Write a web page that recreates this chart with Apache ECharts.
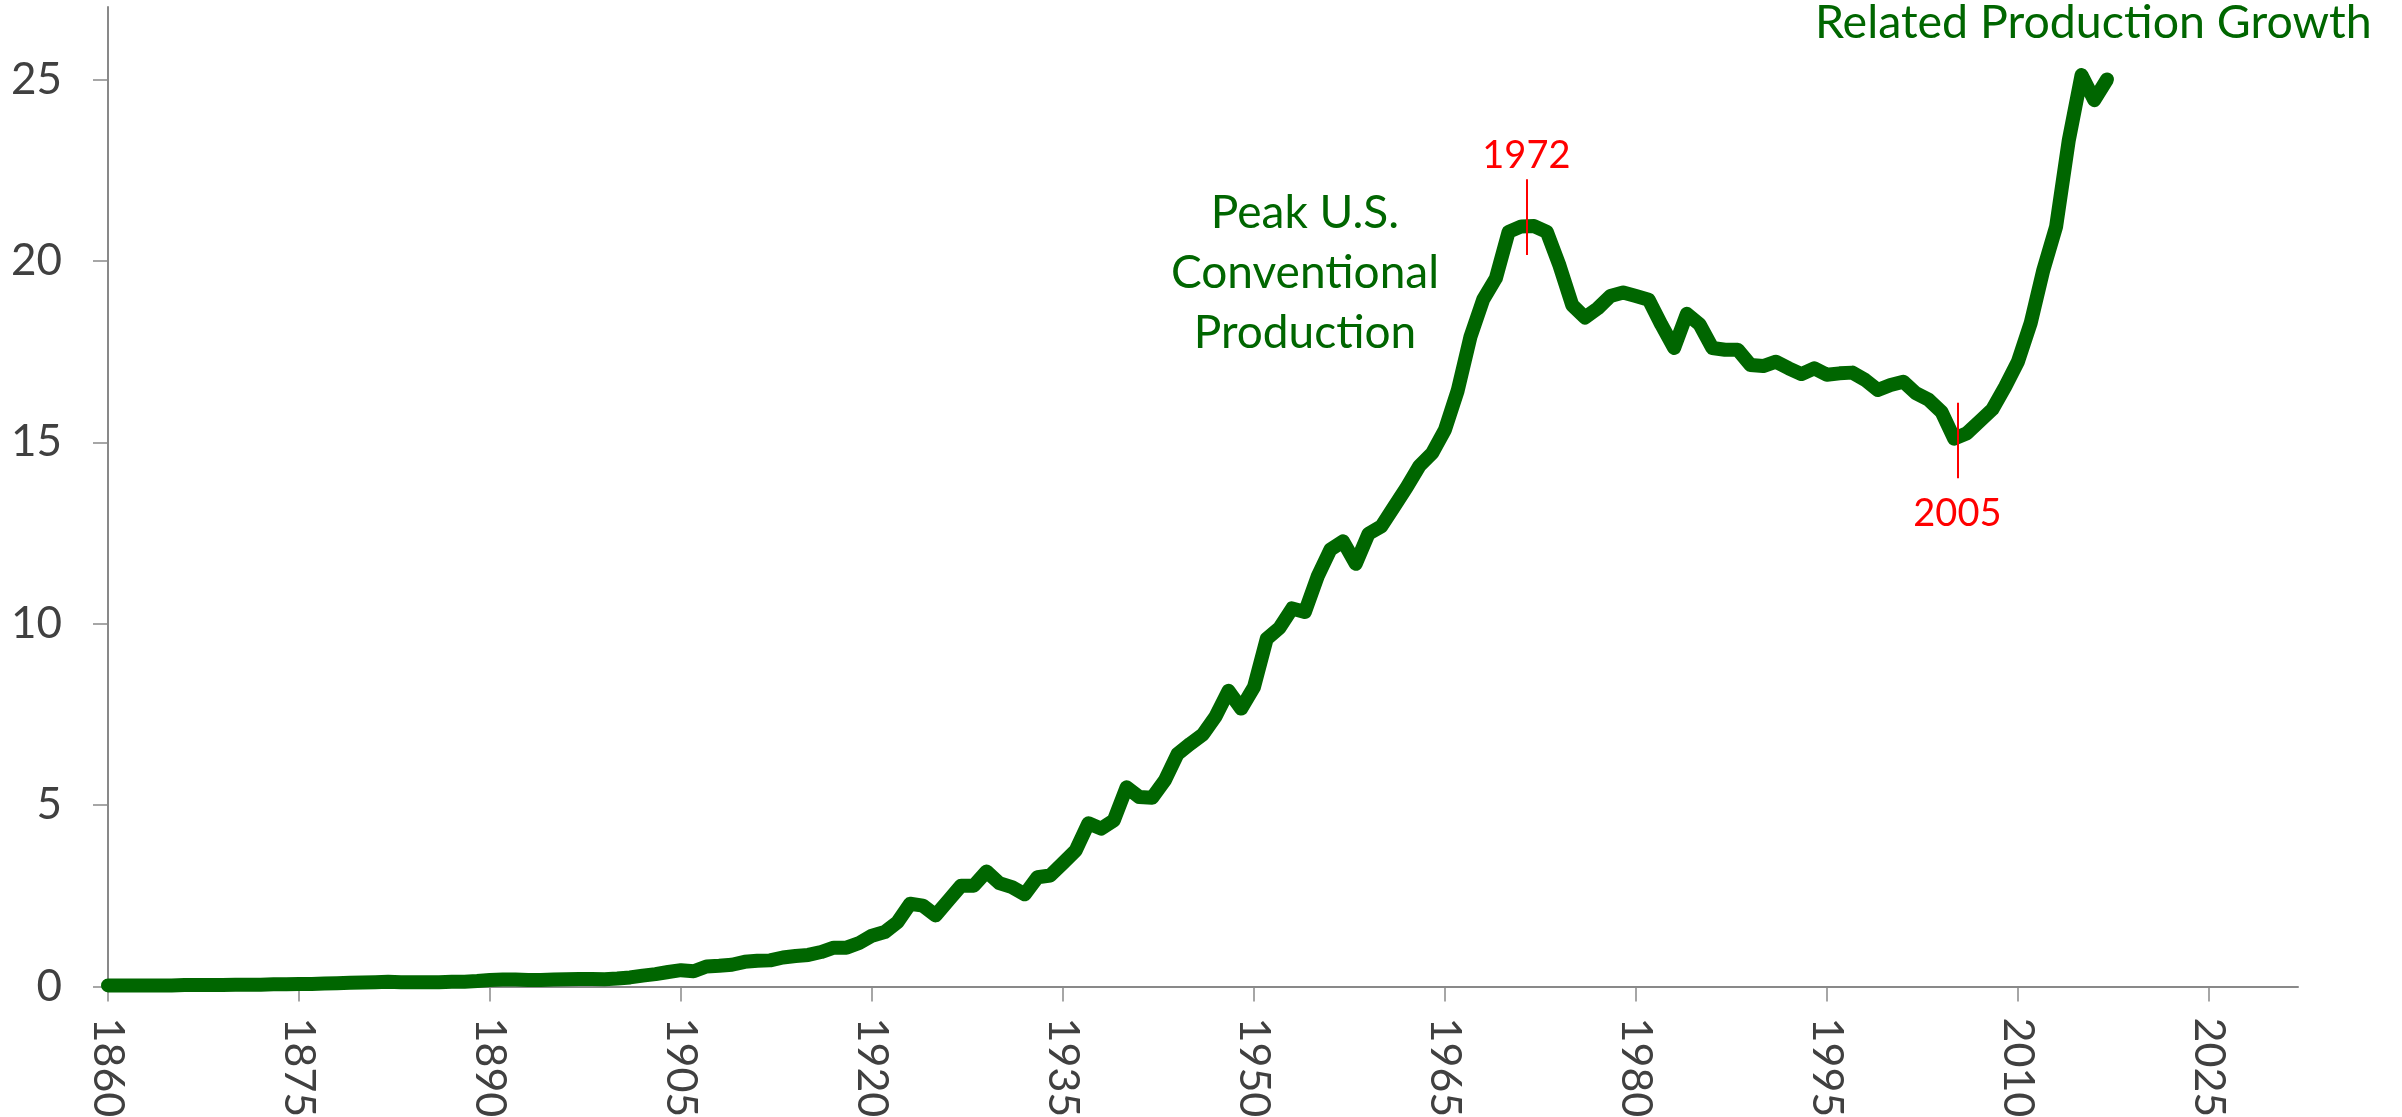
<!DOCTYPE html>
<html>
<head>
<meta charset="utf-8">
<script src="https://cdn.jsdelivr.net/npm/echarts@6/dist/echarts.min.js"></script>
<style>
html,body{margin:0;padding:0;background:#fff;}
#chart{width:2402px;height:1117px;}
</style>
</head>
<body>
<div id="chart"></div>
<script>
// ---- data ----
var years = [
 1860,1861,1862,1863,1864,1865,1866,1867,1868,1869,
 1870,1871,1872,1873,1874,1875,1876,1877,1878,1879,
 1880,1881,1882,1883,1884,1885,1886,1887,1888,1889,
 1890,1891,1892,1893,1894,1895,1896,1897,1898,1899,
 1900,1901,1902,1903,1904,1905,1906,1907,1908,1909,
 1910,1911,1912,1913,1914,1915,1916,1917,1918,1919,
 1920,1921,1922,1923,1924,1925,1926,1927,1928,1929,
 1930,1931,1932,1933,1934,1935,1936,1937,1938,1939,
 1940,1941,1942,1943,1944,1945,1946,1947,1948,1949,
 1950,1951,1952,1953,1954,1955,1956,1957,1958,1959,
 1960,1961,1962,1963,1964,1965,1966,1967,1968,1969,
 1970,1971,1972,1973,1974,1975,1976,1977,1978,1979,
 1980,1981,1982,1983,1984,1985,1986,1987,1988,1989,
 1990,1991,1992,1993,1994,1995,1996,1997,1998,1999,
 2000,2001,2002,2003,2004,2005,2006,2007,2008,2009,
 2010,2011,2012,2013,2014,2015,2016,2017
];
var production = [
 0.03,0.03,0.03,0.03,0.03,0.03,0.04,0.04,0.04,0.04,
 0.05,0.05,0.05,0.06,0.06,0.07,0.07,0.08,0.09,0.10,
 0.11,0.12,0.13,0.12,0.12,0.12,0.12,0.13,0.13,0.15,
 0.18,0.19,0.19,0.18,0.18,0.19,0.20,0.21,0.21,0.20,
 0.22,0.25,0.30,0.34,0.40,0.45,0.42,0.55,0.57,0.60,
 0.68,0.71,0.72,0.80,0.84,0.87,0.95,1.07,1.07,1.20,
 1.40,1.50,1.77,2.28,2.23,1.96,2.37,2.78,2.78,3.17,
 2.85,2.74,2.54,3.01,3.06,3.40,3.75,4.50,4.35,4.58,
 5.49,5.22,5.20,5.68,6.41,6.69,6.95,7.45,8.15,7.66,
 8.25,9.58,9.88,10.42,10.32,11.30,12.04,12.27,11.65,12.48,
 12.68,13.22,13.76,14.35,14.70,15.34,16.42,17.90,18.93,19.52,
 20.80,20.95,20.96,20.80,19.87,18.78,18.44,18.69,19.03,19.13,
 19.03,18.93,18.24,17.60,18.54,18.25,17.60,17.55,17.55,17.13,
 17.10,17.22,17.04,16.88,17.04,16.86,16.90,16.92,16.72,16.44,
 16.58,16.67,16.35,16.17,15.84,15.10,15.25,15.58,15.91,16.53,
 17.22,18.28,19.75,20.94,23.33,25.12,24.43,25.00
];
var xTicks = [1860,1875,1890,1905,1920,1935,1950,1965,1980,1995,2010,2025];
var yTicks = [0,5,10,15,20,25];
var markerLabels = ['1972','2005'];
var markerYears = [1971.4, 2005.25];
var markerFrom = [20.16, 16.09];
var markerTo = [22.25, 14.01];
var peakText = 'Peak U.S.\nConventional\nProduction';
var growthText = 'Related Production Growth';

var GREEN = '#006600';
var AXIS = '#898989';
var TEXT = '#404040';
var FONT = 'Lato';
var markerDistance = [4, 17];

var seriesData = [];
for (var i = 0; i < years.length; i++) seriesData.push([years[i], production[i]]);

var markData = [];
for (var k = 0; k < markerYears.length; k++) {
  markData.push([
    {name: markerLabels[k], coord: [markerYears[k], markerFrom[k]],
     label: {distance: markerDistance[k]}},
    {coord: [markerYears[k], markerTo[k]]}
  ]);
}

var chart = echarts.init(document.getElementById('chart'), null, {renderer: 'canvas'});
chart.setOption({
  animation: false,
  backgroundColor: '#ffffff',
  grid: {left: 108, right: 104, top: 6.9, bottom: 130.5, containLabel: false, outerBoundsMode: 'none'},
  xAxis: {
    type: 'value', min: 1860, max: 2032, interval: 15,
    splitLine: {show: false},
    axisLine: {show: true, onZero: false, lineStyle: {color: AXIS, width: 2}},
    axisTick: {show: true, inside: false, length: 15, customValues: xTicks, lineStyle: {color: AXIS, width: 1.5}},
    axisLabel: {show: true, rotate: -90, margin: 31, customValues: xTicks, color: TEXT, fontFamily: FONT, fontSize: 43,
      formatter: function (v) { return String(v); }}
  },
  yAxis: {
    type: 'value', min: 0, max: 27, interval: 5,
    splitLine: {show: false},
    axisLine: {show: true, lineStyle: {color: AXIS, width: 2}},
    axisTick: {show: true, inside: false, length: 15, customValues: yTicks, lineStyle: {color: AXIS, width: 1.5}},
    axisLabel: {show: true, margin: 46, customValues: yTicks, color: TEXT, fontFamily: FONT, fontSize: 44}
  },
  series: [{
    type: 'line',
    data: seriesData,
    showSymbol: false,
    symbol: 'none',
    clip: false,
    z: 3,
    lineStyle: {color: GREEN, width: 14, cap: 'round', join: 'round'},
    markLine: {
      silent: true,
      symbol: 'none',
      animation: false,
      lineStyle: {color: '#ff0000', width: 2, type: 'solid'},
      label: {show: true, position: 'end', distance: 4, formatter: '{b}', color: '#ff0000', fontFamily: FONT, fontSize: 38},
      data: markData
    }
  }],
  graphic: [
    {type: 'text', left: 1815, top: -1, z: 10,
     style: {text: growthText, fill: GREEN, font: '46.5px Lato', textAlign: 'left', textVerticalAlign: 'top'}},
    {type: 'text', x: 1305, y: 273.5, z: 10,
     style: {text: peakText, fill: GREEN, font: '46px Lato', textAlign: 'center', textVerticalAlign: 'middle', lineHeight: 60}}
  ]
});
</script>
</body>
</html>
